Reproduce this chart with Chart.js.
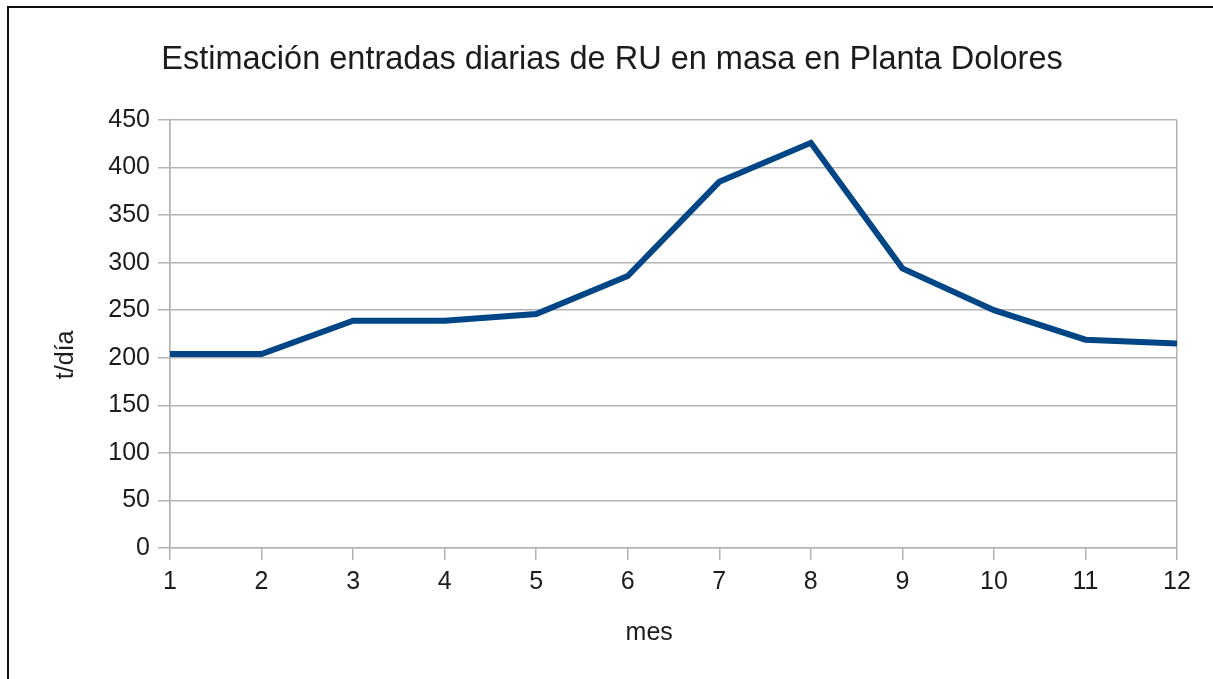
<!DOCTYPE html>
<html>
<head>
<meta charset="utf-8">
<script src="https://cdn.jsdelivr.net/npm/chart.js@4"></script>
<style>
  html, body { margin:0; padding:0; background:#fff; }
  #wrap { position:relative; width:1213px; height:679px; overflow:hidden; }
  #frame { position:absolute; left:7px; top:6px; width:1300px; height:800px;
           border-top:2px solid #111; border-left:2px solid #111; }
  canvas { position:absolute; left:0; top:0; }
</style>
</head>
<body>
<div id="wrap">
  <div id="frame"></div>
  <canvas id="chart"></canvas>
</div>
<script>
// data
const months = ['1','2','3','4','5','6','7','8','9','10','11','12'];
const tonsPerDay = [204, 204, 239, 239, 246, 286, 385, 426, 294, 250, 219, 215];
const yTicks = [0, 50, 100, 150, 200, 250, 300, 350, 400, 450];

const FONT = "'Liberation Sans', Arial, sans-serif";
const TEXT = '#1c1c1c';
const GRID = '#b3b3b3';

Chart.defaults.font.family = FONT;
Chart.defaults.color = TEXT;

const ctx = document.getElementById('chart');
ctx.width = 1213; ctx.height = 679;

new Chart(ctx, {
  type: 'line',
  data: {
    labels: months,
    datasets: [{
      data: tonsPerDay,
      borderColor: '#004586',
      borderWidth: 6,
      pointRadius: 0,
      tension: 0,
      fill: false
    }]
  },
  options: {
    responsive: false,
    animation: false,
    layout: { padding: { left: 11, right: 0, top: 0, bottom: 0 } },
    plugins: {
      legend: { display: false },
      tooltip: { enabled: false },
      title: {
        display: true,
        text: 'Estimación entradas diarias de RU en masa en Planta Dolores',
        font: { size: 32.5, weight: 'normal' },
        color: TEXT,
        padding: { top: 41, bottom: 40 }
      }
    },
    scales: {
      x: {
        offset: false,
        grid: {
          drawOnChartArea: true,
          color: c => (c.index === 0 || c.index === months.length - 1) ? GRID : 'rgba(0,0,0,0)',
          tickColor: GRID,
          tickLength: 12,
          lineWidth: 1.5
        },
        border: { color: GRID, width: 1.5 },
        ticks: { font: { size: 25 }, color: TEXT, padding: 7, maxRotation: 0 },
        title: {
          display: true,
          text: 'mes       ',
          font: { size: 25 },
          color: TEXT,
          padding: { top: 0, bottom: 31 }
        },
        afterFit: s => { s.height = 679 - 548; }
      },
      y: {
        min: 0,
        max: 450,
        afterBuildTicks: s => { s.ticks = yTicks.map(v => ({ value: v })); },
        grid: { color: GRID, tickColor: GRID, tickLength: 12, lineWidth: 1.5 },
        border: { color: GRID, width: 1.5 },
        ticks: { font: { size: 25 }, color: TEXT, padding: 8 },
        title: {
          display: true,
          text: 't/día      ',
          font: { size: 25 },
          color: TEXT,
          padding: { top: 40, bottom: 0 }
        },
        afterFit: s => { s.width = 170 - 11; }
      },
      // empty right-hand axis, only reserves the margin right of the plot
      yRight: {
        position: 'right',
        min: 0,
        max: 450,
        grid: { drawOnChartArea: false, drawTicks: false },
        border: { display: false },
        ticks: { display: false },
        afterFit: s => { s.width = 36; }
      }
    }
  }
});
</script>
</body>
</html>
